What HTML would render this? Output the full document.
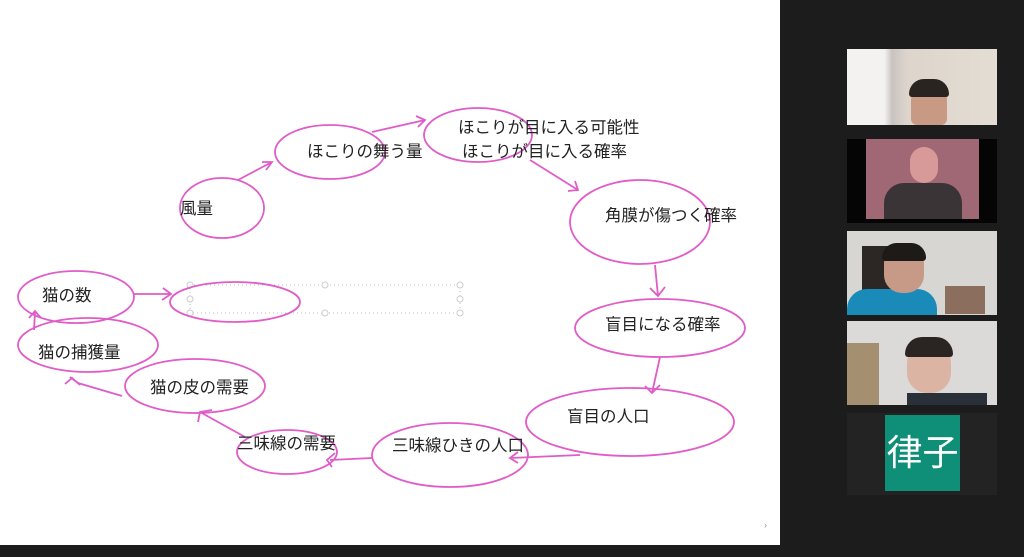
<!DOCTYPE html>
<html><head><meta charset="utf-8"><style>
html,body{margin:0;padding:0;width:1024px;height:557px;overflow:hidden;background:#1c1c1c;font-family:"Liberation Sans","Noto Sans CJK JP",sans-serif}
#canvas{position:absolute;left:0;top:0;width:780px;height:545px;background:#fff}
.t{position:absolute;font-size:16.5px;color:#222;white-space:nowrap;line-height:18px}
.tile{position:absolute;left:847px;width:150px}
</style></head><body>
<div id="canvas">
<svg width="780" height="545" style="position:absolute;left:0;top:0" fill="none" stroke="#e05cc8" stroke-width="1.8">
<rect x="190" y="285" width="270" height="28" stroke="#bbb" stroke-width="1" stroke-dasharray="1,3"/>
<g stroke="#ccc" stroke-width="1" fill="#fff"><circle cx="190" cy="285" r="3"/><circle cx="325" cy="285" r="3"/><circle cx="460" cy="285" r="3"/><circle cx="190" cy="299" r="3"/><circle cx="460" cy="299" r="3"/><circle cx="190" cy="313" r="3"/><circle cx="325" cy="313" r="3"/><circle cx="460" cy="313" r="3"/></g>
<ellipse cx="222" cy="208" rx="42" ry="30"/>
<ellipse cx="330" cy="152" rx="55" ry="27"/>
<ellipse cx="478" cy="135" rx="54" ry="27"/>
<ellipse cx="640" cy="222" rx="70" ry="42"/>
<ellipse cx="660" cy="328" rx="85" ry="29"/>
<ellipse cx="630" cy="422" rx="104" ry="34"/>
<ellipse cx="450" cy="455" rx="78" ry="32"/>
<ellipse cx="287" cy="452" rx="50" ry="22"/>
<ellipse cx="195" cy="386" rx="70" ry="27"/>
<ellipse cx="88" cy="345" rx="70" ry="27"/>
<ellipse cx="76" cy="297" rx="58" ry="26"/>
<ellipse cx="235" cy="302" rx="65" ry="20"/>
<path d="M238 180 L272 162 M262 162 L272 162 L266 170"/>
<path d="M372 132 L425 120 M416 116 L425 120 L418 127"/>
<path d="M530 160 L578 190 M568 191 L578 190 L575 181"/>
<path d="M655 265 L658 296 M650 288 L658 296 L665 287"/>
<path d="M660 357 L652 393 M645 386 L652 393 L660 385"/>
<path d="M580 455 L510 458 M518 452 L510 458 L518 463"/>
<path d="M372 458 L330 460 M335 453 L327 460 L332 467"/>
<path d="M245 437 L200 412 M198 422 L200 412 L212 410"/>
<path d="M122 396 L78 383 L70 377 M65 384 L72 378 L80 385"/>
<path d="M34 330 L35 312 M29 318 L35 311 L41 318"/>
<path d="M134 294 L170 294 M163 288 L171 294 L162 300"/>
</svg>
<div class="t" style="left:180px;top:200px">風量</div>
<div class="t" style="left:307px;top:143px">ほこりの舞う量</div>
<div class="t" style="left:458px;top:119px">ほこりが目に入る可能性</div>
<div class="t" style="left:462px;top:143px">ほこりが目に入る確率</div>
<div class="t" style="left:605px;top:207px">角膜が傷つく確率</div>
<div class="t" style="left:605px;top:316px">盲目になる確率</div>
<div class="t" style="left:567px;top:408px">盲目の人口</div>
<div class="t" style="left:392px;top:437px">三味線ひきの人口</div>
<div class="t" style="left:237px;top:435px">三味線の需要</div>
<div class="t" style="left:150px;top:379px">猫の皮の需要</div>
<div class="t" style="left:38px;top:344px">猫の捕獲量</div>
<div class="t" style="left:42px;top:287px">猫の数</div>
<div class="t" style="left:764px;top:516px;font-size:9px;color:#999">›</div>
</div>
<div class="tile" style="top:49px;height:76px;background:linear-gradient(90deg,#f4f2f0 0,#f4f2f0 25%,#c9c3c0 30%,#ddd5cc 40%,#e4ddd4 100%)">
 <div style="position:absolute;left:64px;top:33px;width:36px;height:43px;border-radius:18px 18px 6px 6px;background:#c89a84"></div>
 <div style="position:absolute;left:62px;top:30px;width:40px;height:18px;border-radius:20px 20px 4px 4px;background:#2a2420"></div></div>
<div class="tile" style="top:139px;height:84px;background:#050505">
 <div style="position:absolute;left:19px;top:0;width:113px;height:80px;background:#a06874"></div>
 <div style="position:absolute;left:37px;top:44px;width:78px;height:36px;border-radius:20px 20px 0 0;background:#3a3436"></div>
 <div style="position:absolute;left:63px;top:8px;width:28px;height:36px;border-radius:14px;background:#d89a98"></div></div>
<div class="tile" style="top:231px;height:84px;background:#d8d6d2">
 <div style="position:absolute;left:15px;top:15px;width:30px;height:69px;background:#2c2624"></div>
 <div style="position:absolute;left:0;top:58px;width:90px;height:26px;border-radius:20px 20px 0 0;background:#1a8ab8"></div>
 <div style="position:absolute;left:37px;top:14px;width:40px;height:48px;border-radius:18px;background:#c69a86"></div>
 <div style="position:absolute;left:35px;top:12px;width:44px;height:18px;border-radius:18px 18px 4px 4px;background:#1e1a18"></div>
 <div style="position:absolute;left:98px;top:55px;width:40px;height:28px;background:#8c6e5e"></div></div>
<div class="tile" style="top:321px;height:84px;background:#dcdad8">
 <div style="position:absolute;left:0;top:22px;width:32px;height:62px;background:#a48f70"></div>
 <div style="position:absolute;left:60px;top:22px;width:44px;height:50px;border-radius:20px;background:#dcb4a4"></div>
 <div style="position:absolute;left:58px;top:16px;width:48px;height:20px;border-radius:22px 22px 4px 4px;background:#2a2422"></div>
 <div style="position:absolute;left:60px;top:72px;width:80px;height:12px;background:#2a3038"></div></div>
<div class="tile" style="top:413px;height:82px;background:#232323">
 <div style="position:absolute;left:38px;top:2px;width:75px;height:76px;background:#0f8f78;color:#fff;font-size:36px;line-height:76px;text-align:center">律子</div></div>
</body></html>
